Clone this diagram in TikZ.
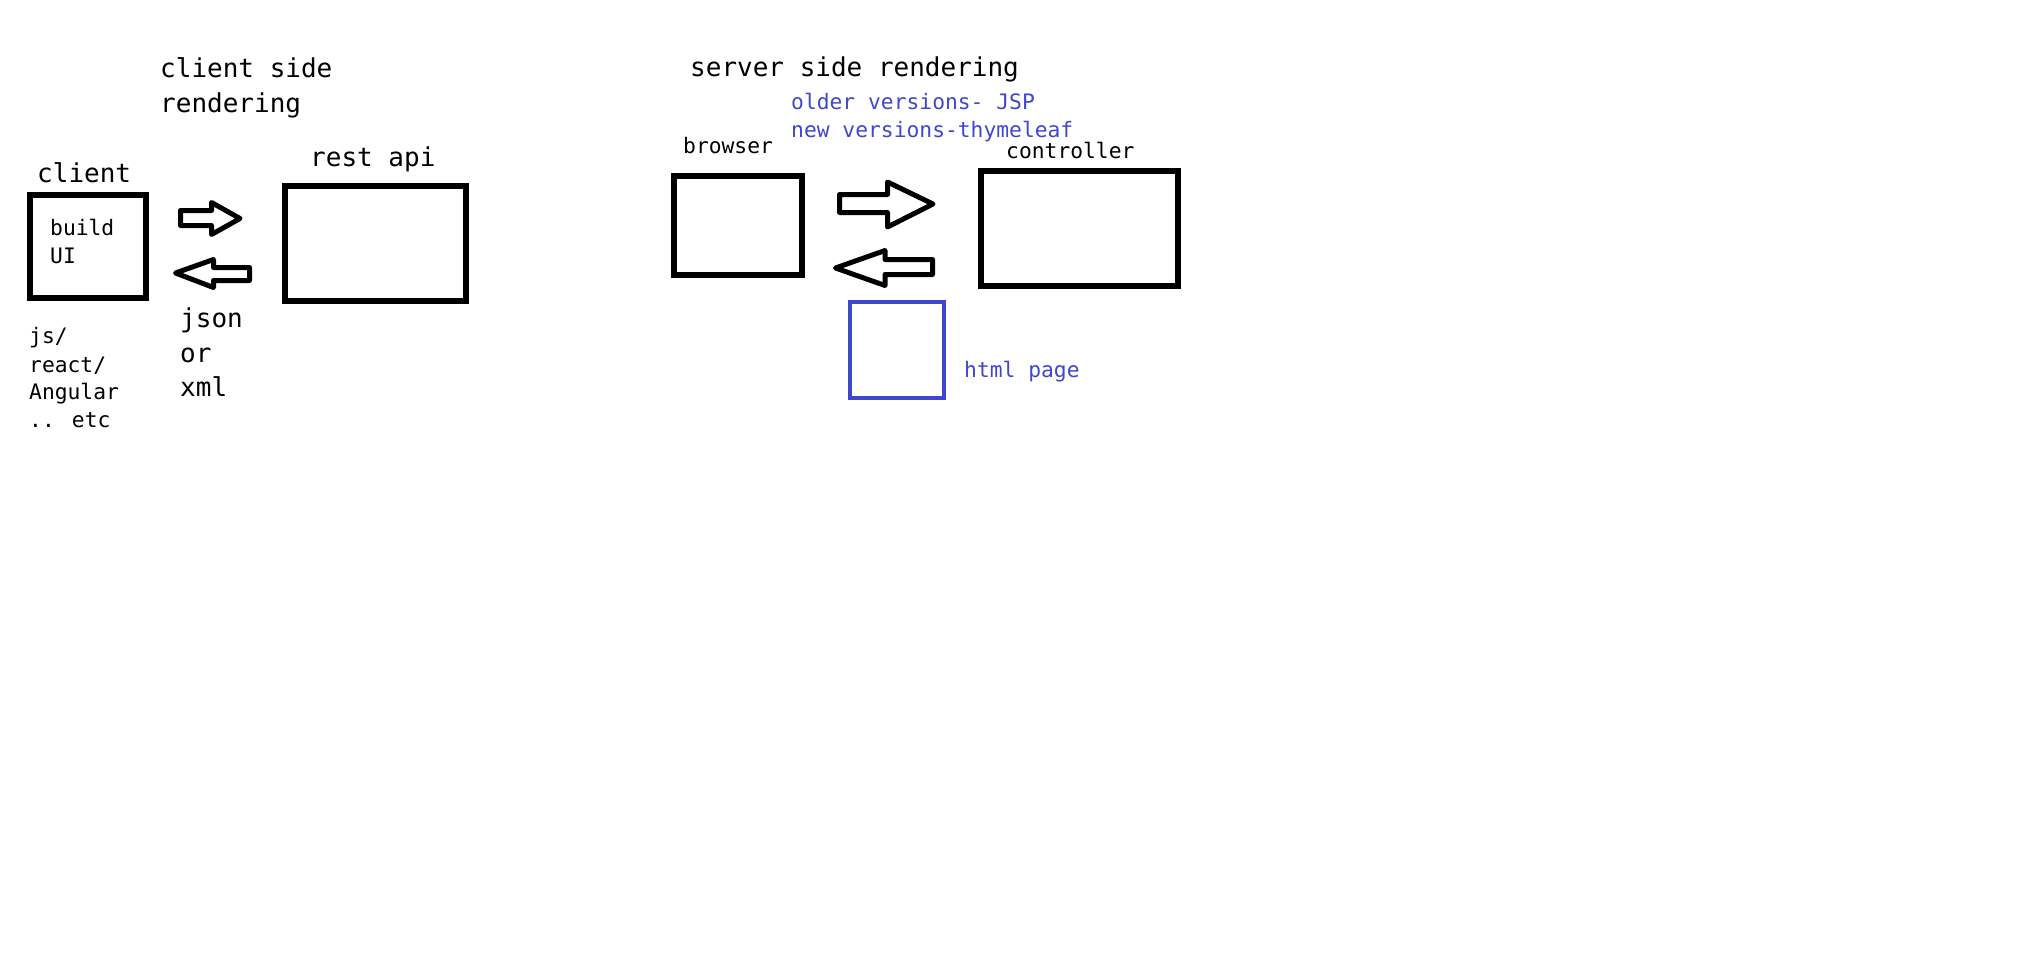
\documentclass[tikz,border=0pt]{standalone}
\usepackage{fontspec}
\newfontfamily\sketchfont{DejaVu Sans Mono}
\usepackage{xcolor}
\usepackage{tikz}
\usetikzlibrary{positioning}
\definecolor{paintblue}{RGB}{63,72,204}
\tikzset{
  bigtext/.style={font=\sketchfont\fontsize{26}{34}\selectfont, anchor=base west, inner sep=0pt},
  smalltext/.style={font=\sketchfont\fontsize{21.3}{28}\selectfont, anchor=base west, inner sep=0pt},
  boxline/.style={line width=6pt},
  arrowline/.style={line width=5pt, line join=round}
}
\begin{document}
\begin{tikzpicture}[x=1pt,y=-1pt]
  \useasboundingbox (0,0) rectangle (2022,978);

  % client side rendering
  \node[bigtext] (cstitle1) at (160,77) {client side};
  \node[bigtext] (cstitle2) at (160,112) {rendering};

  \draw[boxline] (30,195) rectangle (146,298);
  \node[bigtext] (clientlbl) at (37,182) {client};
  \node[smalltext] (build) at (50,235) {build};
  \node[smalltext] (ui) at (50,263) {UI};

  \node[smalltext] (js) at (29,343) {js/};
  \node[smalltext] (react) at (29,372) {react/};
  \node[smalltext] (angular) at (29,399) {Angular};
  \node[smalltext] (etc) at (29,427) {.. etc};

  \draw[arrowline] (180.5,210.5) -- (211.5,210.5) -- (211.5,202.5) -- (240,218.5) -- (211.5,234.5) -- (211.5,225.5) -- (180.5,225.5) -- cycle;
  \draw[arrowline] (175.5,273) -- (213.5,259.5) -- (213.5,267.5) -- (249.5,267.5) -- (249.5,280.5) -- (213.5,280.5) -- (213.5,287.5) -- cycle;

  \node[bigtext] (json) at (180,327) {json};
  \node[bigtext] (or) at (180,362) {or};
  \node[bigtext] (xml) at (180,396) {xml};

  \draw[boxline] (285,186) rectangle (466,301);
  \node[bigtext] (restlbl) at (310,166) {rest api};

  % server side rendering
  \node[bigtext] (sstitle) at (690,76) {server side rendering};
  \node[smalltext, paintblue] (older) at (791,109) {older versions- JSP};
  \node[smalltext, paintblue] (newer) at (791,137) {new versions-thymeleaf};

  \draw[boxline] (674,176) rectangle (802,275);
  \node[smalltext] (browserlbl) at (683,153) {browser};

  \draw[arrowline] (839.5,194.5) -- (887.5,194.5) -- (887.5,182) -- (933,204) -- (887.5,227) -- (887.5,212.5) -- (839.5,212.5) -- cycle;
  \draw[arrowline] (835.5,268) -- (885,250.5) -- (885,259.5) -- (932.5,259.5) -- (932.5,274.5) -- (885,274.5) -- (885,285.5) -- cycle;

  \draw[boxline] (981,171) rectangle (1178,286);
  \node[smalltext] (controllerlbl) at (1006,158) {controller};

  \draw[paintblue, line width=4.5pt] (850,302) rectangle (944,398);
  \node[smalltext, paintblue] (htmllbl) at (964,377) {html page};

\end{tikzpicture}
\end{document}
